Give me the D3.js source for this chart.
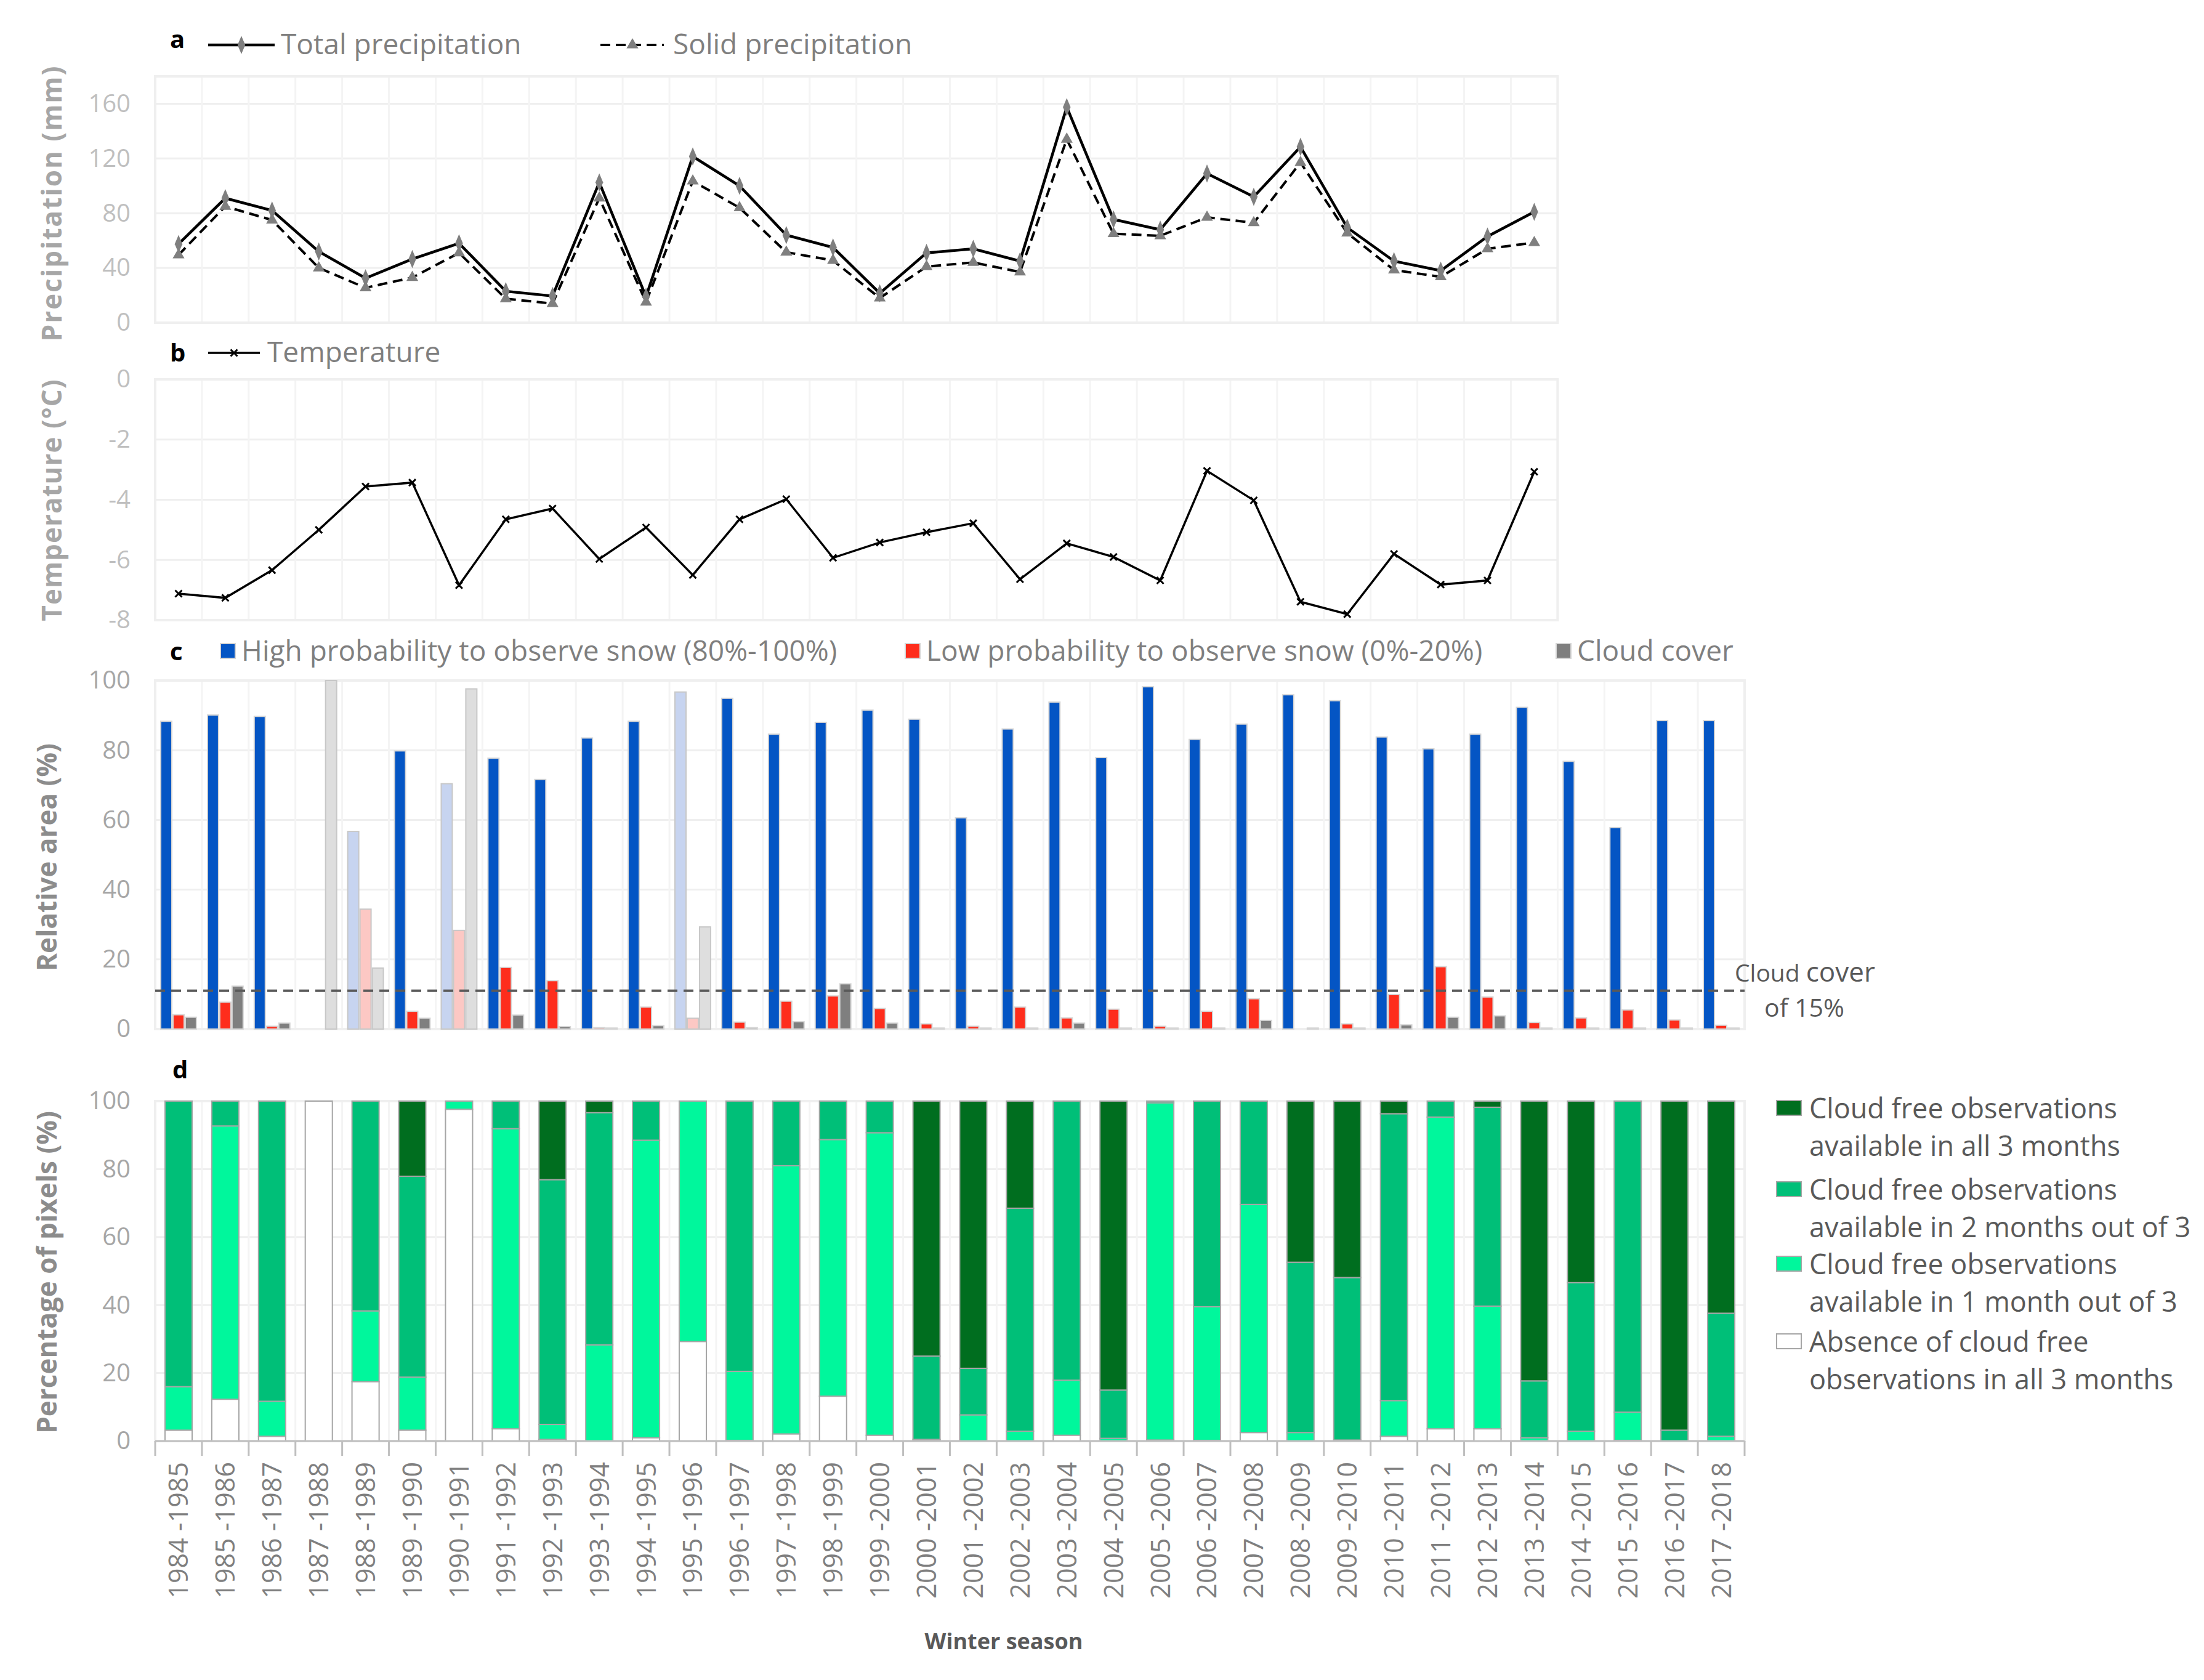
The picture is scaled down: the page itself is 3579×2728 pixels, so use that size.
<!DOCTYPE html>
<html><head><meta charset="utf-8">
<script src="https://cdn.jsdelivr.net/npm/d3@7"></script>
<style>
html,body{margin:0;padding:0;background:#fff;}
text{font-family:"Open Sans","DejaVu Sans",sans-serif;}
</style></head>
<body>
<svg id="chart" width="3579" height="2728"></svg>
<script>
// ---------- DATA ----------
const seasons = ["1984 -1985","1985 -1986","1986 -1987","1987 -1988","1988 -1989","1989 -1990","1990 -1991","1991 -1992","1992 -1993","1993 -1994","1994 -1995","1995 -1996","1996 -1997","1997 -1998","1998 -1999","1999 -2000","2000 -2001","2001 -2002","2002 -2003","2003 -2004","2004 -2005","2005 -2006","2006 -2007","2007 -2008","2008 -2009","2009 -2010","2010 -2011","2011 -2012","2012 -2013","2013 -2014","2014 -2015","2015 -2016","2016 -2017","2017 -2018"];
// panels a & b cover the first 30 seasons
const totalPrecip = [57.5,91,82,52,32.5,46.5,58,23,19.5,102.5,19,121.5,100,64,55,21.5,51,54,45,157.5,75.5,68,109,92,128.5,69.5,45,38,63,81];
const solidPrecip = [49.5,85,75,40,25.5,33,51,17.5,14,91,15,103.5,84,51.5,45.5,18,41,44,37,134,65,63.5,77,73,117,65.5,38.5,33.5,54,58.5];
const temperature = [-7.12,-7.26,-6.34,-5.0,-3.56,-3.43,-6.84,-4.65,-4.29,-5.97,-4.92,-6.5,-4.65,-3.98,-5.93,-5.42,-5.08,-4.78,-6.64,-5.45,-5.9,-6.68,-3.04,-4.02,-7.39,-7.8,-5.8,-6.82,-6.68,-3.07];
// panel c
const highSnow = [88.3,90.1,89.7,0,56.7,79.8,70.4,77.7,71.6,83.5,88.3,96.7,94.9,84.6,88.0,91.5,88.9,60.6,86.1,93.8,77.9,98.2,83.1,87.5,95.9,94.2,83.8,80.4,84.6,92.3,76.8,57.8,88.5,88.5];
const lowSnow = [4.1,7.7,0.8,0,34.4,5.1,28.3,17.7,13.9,0.4,6.3,3.1,2.0,8.0,9.5,5.9,1.5,0.8,6.3,3.2,5.7,0.8,5.1,8.7,0,1.5,9.9,17.9,9.2,1.9,3.2,5.5,2.6,1.1];
const cloudCover = [3.4,12.3,1.7,100,17.5,3.1,97.6,4.0,0.7,0.3,1.0,29.3,0.4,2.1,13.0,1.7,0.3,0.3,0.3,1.7,0.3,0.3,0.3,2.5,0.3,0.3,1.2,3.4,3.8,0.3,0.3,0.3,0.3,0.3];
const fadedSeasons = ["1987 -1988","1988 -1989","1990 -1991","1995 -1996"];
const cloudThreshold = 11;
// panel d (bottom to top)
const absenceObs = [3.2,12.3,1.4,100,17.5,3.2,97.6,3.6,0.5,0,1.0,29.3,0.2,2.1,13.2,1.7,0.2,0,0,1.7,0,0.3,0.2,2.5,0,0,1.4,3.6,3.6,0,0,0.2,0,0];
const oneMonth   = [12.8,80.4,10.3,0,20.8,15.6,2.4,88.3,4.4,28.3,87.5,70.7,20.3,78.9,75.5,89.0,0.3,7.7,2.9,16.2,0.8,99.2,39.3,67.1,2.5,0.3,10.5,91.7,36.1,1.0,2.9,8.3,0,1.4];
const twoMonths  = [84.0,7.3,88.3,0,61.7,59.1,0,8.1,72.0,68.3,11.5,0,79.5,19.0,11.3,9.3,24.5,13.7,65.6,82.1,14.2,0.5,60.5,30.4,50.1,47.8,84.4,4.7,58.5,16.7,43.7,91.5,3.2,36.2];
const allMonths  = [0,0,0,0,0,22.1,0,0,23.1,3.4,0,0,0,0,0,0,75.0,78.6,31.5,0,85.0,0,0,0,47.4,51.9,3.7,0,1.8,82.3,53.4,0,96.8,62.4];
const precipTicks = [0,40,80,120,160];
const tempTicks = [0,-2,-4,-6,-8];
const pctTicks = [0,20,40,60,80,100];
const legendD = [
  ["Cloud free observations","available in all 3 months"],
  ["Cloud free observations","available in 2 months out of 3"],
  ["Cloud free observations","available in 1 month out of 3"],
  ["Absence of cloud free","observations in all 3 months"]
];

// ---------- LAYOUT ----------
const svg = d3.select("#chart");
const L = 252, R = 2833;
const x = d3.scaleBand().domain(seasons).range([L, R]).padding(0);
const bw = x.bandwidth();
const cx = s => x(s) + bw/2;
const sAB = seasons.slice(0, 30);
const RAB = x(sAB[29]) + bw;
const grid = "#efefef";

function frame(g, yScale, ticks, x0, x1, cats, vGrid) {
  g.selectAll(".hg").data(ticks).join("line")
    .attr("x1", x0).attr("x2", x1).attr("y1", d=>yScale(d)).attr("y2", d=>yScale(d))
    .attr("stroke", grid).attr("stroke-width", 3);
  if (vGrid) {
    g.selectAll(".vg").data(cats.slice(1)).join("line")
      .attr("x1", d=>x(d)).attr("x2", d=>x(d))
      .attr("y1", yScale.range()[0]).attr("y2", yScale.range()[1])
      .attr("stroke", "#f4f4f4").attr("stroke-width", 3);
  }
  g.append("rect").attr("x", x0).attr("y", yScale.range()[1])
    .attr("width", x1-x0).attr("height", yScale.range()[0]-yScale.range()[1])
    .attr("fill","none").attr("stroke", grid).attr("stroke-width", 4);
}
function yAxis(g, yScale, ticks, color) {
  const ax = g.append("g").attr("transform", `translate(${L},0)`)
    .call(d3.axisLeft(yScale).tickValues(ticks).tickSize(0).tickPadding(40).tickFormat(d=>String(d)));
  ax.select(".domain").remove();
  ax.selectAll("text").attr("fill", color).style("font-size","40px")
    .style("font-family","'Open Sans',sans-serif");
}
function yTitle(txt, xx, yy, color, spacing) {
  svg.append("text").attr("transform", `translate(${xx},${yy}) rotate(-90)`)
    .attr("text-anchor","middle").attr("fill", color)
    .style("font-size","44px").style("font-weight","700")
    .style("letter-spacing", spacing+"px").text(txt);
}
function letter(t, xx, yy) {
  svg.append("text").attr("x", xx).attr("y", yy).text(t)
    .style("font-size","40px").style("font-weight","700").attr("fill","#000");
}

// ---------- PANEL A ----------
const yA = d3.scaleLinear().domain([0,180]).range([524,124]);
const gA = svg.append("g");
frame(gA, yA, precipTicks, L, RAB, sAB, true);
yAxis(gA, yA, precipTicks, "#bfbfbf");
yTitle("Precipitation (mm)", 100, 330, "#a6a6a6", 2);
const lineTot = d3.line().x((d,i)=>cx(sAB[i])).y(d=>yA(d));
gA.append("path").attr("d", lineTot(solidPrecip)).attr("fill","none")
  .attr("stroke","#000").attr("stroke-width",4).attr("stroke-dasharray","16,9");
gA.append("path").attr("d", lineTot(totalPrecip)).attr("fill","none")
  .attr("stroke","#000").attr("stroke-width",4.5);
const diamond = d3.symbol().type(d3.symbolDiamond).size(210);
const tri = d3.symbol().type(d3.symbolTriangle).size(160);
gA.selectAll(".ms").data(solidPrecip).join("path")
  .attr("d", tri).attr("transform",(d,i)=>`translate(${cx(sAB[i])},${yA(d)})`).attr("fill","#7f7f7f");
gA.selectAll(".mt").data(totalPrecip).join("path")
  .attr("d", diamond).attr("transform",(d,i)=>`translate(${cx(sAB[i])},${yA(d)}) scale(0.8,1.1)`).attr("fill","#7f7f7f");
// legend a
letter("a", 276, 78);
svg.append("line").attr("x1",338).attr("x2",446).attr("y1",73).attr("y2",73).attr("stroke","#000").attr("stroke-width",4.5);
svg.append("path").attr("d", diamond).attr("transform","translate(392,73) scale(0.8,1.1)").attr("fill","#7f7f7f");
svg.append("text").attr("x",456).attr("y",88).text("Total precipitation").attr("fill","#7f7f7f").style("font-size","46px");
svg.append("line").attr("x1",975).attr("x2",1078).attr("y1",73).attr("y2",73).attr("stroke","#000").attr("stroke-width",4).attr("stroke-dasharray","16,9");
svg.append("path").attr("d", tri).attr("transform","translate(1027,73)").attr("fill","#7f7f7f");
svg.append("text").attr("x",1093).attr("y",88).text("Solid precipitation").attr("fill","#7f7f7f").style("font-size","46px");

// ---------- PANEL B ----------
const yB = d3.scaleLinear().domain([-8,0]).range([1007,616]);
const gB = svg.append("g");
frame(gB, yB, tempTicks, L, RAB, sAB, true);
yAxis(gB, yB, tempTicks, "#bfbfbf");
yTitle("Temperature (°C)", 100, 812, "#a6a6a6", 1);
gB.append("path").attr("d", d3.line().x((d,i)=>cx(sAB[i])).y(d=>yB(d))(temperature))
  .attr("fill","none").attr("stroke","#000").attr("stroke-width",3.5);
const star = d3.symbol().type(d3.symbolTimes).size(80);
gB.selectAll(".mk").data(temperature).join("path")
  .attr("d", star).attr("transform",(d,i)=>`translate(${cx(sAB[i])},${yB(d)})`)
  .attr("fill","none").attr("stroke","#000").attr("stroke-width",3);
letter("b", 276, 587);
svg.append("line").attr("x1",338).attr("x2",422).attr("y1",573).attr("y2",573).attr("stroke","#000").attr("stroke-width",3.5);
svg.append("path").attr("d", star).attr("transform","translate(380,573)").attr("fill","none").attr("stroke","#000").attr("stroke-width",3);
svg.append("text").attr("x",434).attr("y",588).text("Temperature").attr("fill","#7f7f7f").style("font-size","46px");

// ---------- PANEL C ----------
const yC = d3.scaleLinear().domain([0,100]).range([1671,1105]);
const gC = svg.append("g");
frame(gC, yC, pctTicks, L, R, seasons, true);
yAxis(gC, yC, pctTicks, "#a6a6a6");
yTitle("Relative area (%)", 92, 1392, "#8c8c8c", 0);
const keysC = ["high","low","cloud"];
const x1 = d3.scaleBand().domain(keysC).range([9, bw-9]).paddingInner(0.1);
const colC = {high:"#0455c4", low:"#fe2d1c", cloud:"#7f7f7f"};
const colCfaded = {high:"#c7d4f0", low:"#fcc8c4", cloud:"#dedede"};
const rowsC = seasons.map((s,i)=>({s, high:highSnow[i], low:lowSnow[i], cloud:cloudCover[i], faded: fadedSeasons.includes(s)}));
const gCb = gC.selectAll(".grp").data(rowsC).join("g").attr("transform", d=>`translate(${x(d.s)},0)`);
gCb.selectAll("rect").data(d=>keysC.map(k=>({k, v:d[k], faded:d.faded})).filter(e=>e.v>0)).join("rect")
  .attr("x", e=>x1(e.k)).attr("width", x1.bandwidth())
  .attr("y", e=>yC(e.v)).attr("height", e=>yC(0)-yC(e.v))
  .attr("fill", e=>e.faded ? colCfaded[e.k] : colC[e.k])
  .attr("stroke", e=>e.faded ? "#c8c8c8" : "#d6d6d6").attr("stroke-width", 2);
gC.append("line").attr("x1",L).attr("x2",R).attr("y1",yC(cloudThreshold)).attr("y2",yC(cloudThreshold))
  .attr("stroke","#595959").attr("stroke-width",4).attr("stroke-dasharray","16,10");
const ann = svg.append("text").attr("x",2817).attr("y",1594).attr("fill","#595959");
ann.append("tspan").text("Cloud ").style("font-size","39px");
ann.append("tspan").text("cover").style("font-size","44px");
svg.append("text").attr("x",2865).attr("y",1651).text("of 15%").attr("fill","#595959").style("font-size","41px");
letter("c", 276, 1072);
const legC = [
  {c:"#0455c4", x:358, t:"High probability to observe snow (80%-100%)"},
  {c:"#fe2d1c", x:1470, t:"Low probability to observe snow (0%-20%)"},
  {c:"#7f7f7f", x:2527, t:"Cloud cover"}
];
legC.forEach(d=>{
  svg.append("rect").attr("x",d.x).attr("y",1045).attr("width",24).attr("height",24).attr("fill",d.c).attr("stroke","#d6d6d6").attr("stroke-width",2);
  svg.append("text").attr("x",d.x+34).attr("y",1073).text(d.t).attr("fill","#7f7f7f").style("font-size","46px");
});

// ---------- PANEL D ----------
const yD = d3.scaleLinear().domain([0,100]).range([2340,1788]);
const gD = svg.append("g");
frame(gD, yD, pctTicks.slice(1), L, R, seasons, true);
yAxis(gD, yD, pctTicks, "#a6a6a6");
yTitle("Percentage of pixels (%)", 92, 2066, "#8c8c8c", 0);
const keysD = ["absence","one","two","all"];
const colD = {absence:"#ffffff", one:"#00f79c", two:"#00bf78", all:"#006e1f"};
const rowsD = seasons.map((s,i)=>({s, absence:absenceObs[i], one:oneMonth[i], two:twoMonths[i], all:allMonths[i]}));
const stackD = d3.stack().keys(keysD)(rowsD);
const barW = bw*0.58;
gD.selectAll(".layer").data(stackD).join("g").attr("fill", d=>colD[d.key])
  .selectAll("rect").data(d=>d.filter(e=>e[1]-e[0]>0)).join("rect")
  .attr("x", e=>x(e.data.s)+(bw-barW)/2).attr("width", barW)
  .attr("y", e=>yD(e[1])).attr("height", e=>yD(e[0])-yD(e[1]))
  .attr("stroke","#a6a6a6").attr("stroke-width",2);
// x axis
gD.append("line").attr("x1",L).attr("x2",R).attr("y1",2340).attr("y2",2340).attr("stroke","#bfbfbf").attr("stroke-width",3);
gD.selectAll(".bt").data(seasons.concat(["__end"])).join("line")
  .attr("x1",(d,i)=>i<seasons.length?x(d):R).attr("x2",(d,i)=>i<seasons.length?x(d):R)
  .attr("y1",2340).attr("y2",2364).attr("stroke","#bfbfbf").attr("stroke-width",3);
const xa = gD.append("g").attr("transform","translate(0,2340)").call(d3.axisBottom(x).tickSize(0));
xa.select(".domain").remove();
xa.selectAll("text").attr("transform","rotate(-90)").attr("x",-34).attr("y",0).attr("dy","0.36em")
  .attr("text-anchor","end").attr("fill","#7f7f7f").style("font-size","43px")
  .style("font-family","'Open Sans',sans-serif");
svg.append("text").attr("x",1630).attr("y",2678).attr("text-anchor","middle").text("Winter season")
  .attr("fill","#595959").style("font-size","36px").style("font-weight","700");
letter("d", 280, 1751);
// legend d
const legKeys = ["all","two","one","absence"];
const legY = [1801, 1933, 2054, 2180];
legendD.forEach((lines,i)=>{
  svg.append("rect").attr("x",2885).attr("y",legY[i]-14).attr("width",40).attr("height",24)
    .attr("fill",colD[legKeys[i]]).attr("stroke","#a6a6a6").attr("stroke-width",2);
  const t = svg.append("text").attr("x",2938).attr("y",legY[i]+15).attr("fill","#595959").style("font-size","45px");
  lines.forEach((ln,j)=>t.append("tspan").attr("x",2938).attr("dy", j===0?0:61).text(ln));
});
</script>
</body></html>
